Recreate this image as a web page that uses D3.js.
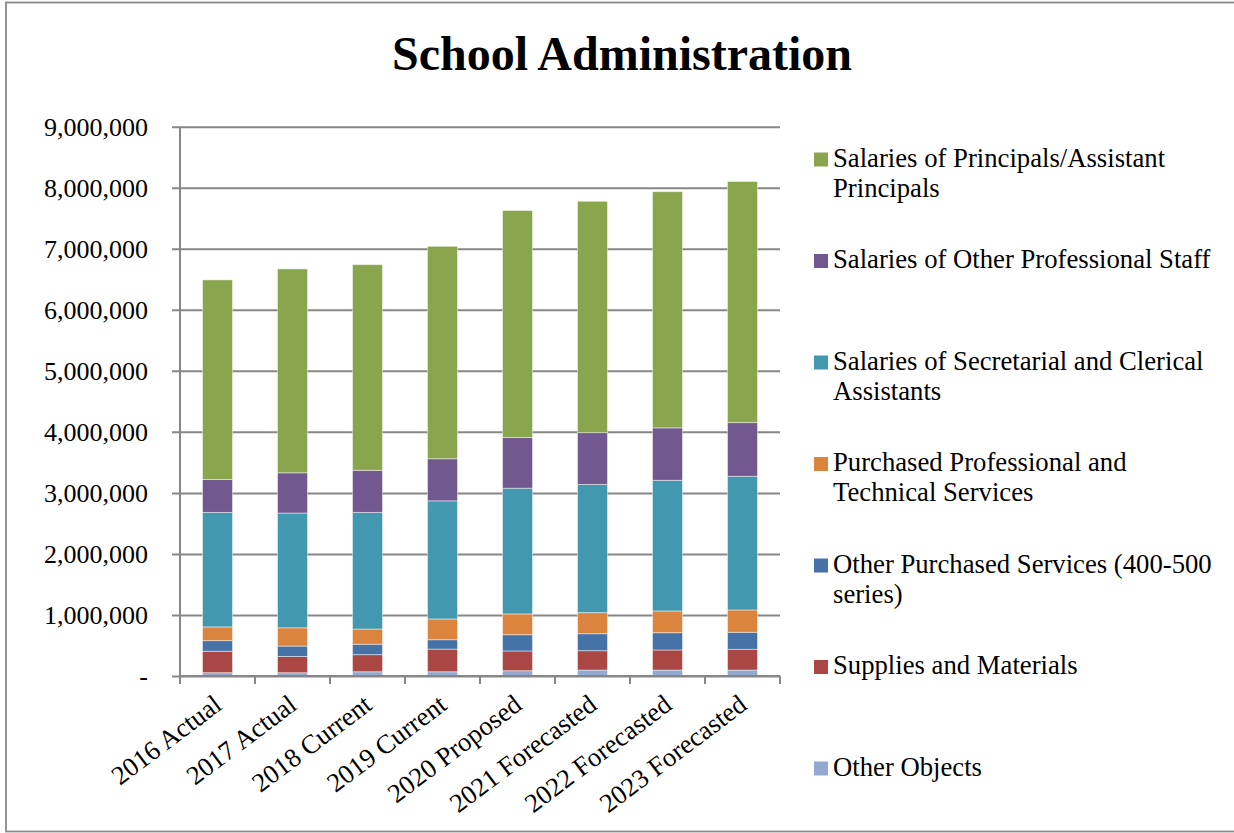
<!DOCTYPE html>
<html>
<head>
<meta charset="utf-8">
<script src="https://cdn.jsdelivr.net/npm/d3@7"></script>
<style>
  body { margin: 0; background: #fff; }
  svg text { font-family: "Liberation Serif", "Times New Roman", serif; fill: #000; }
</style>
</head>
<body>
<div id="chart"></div>
<script>
// categories along the x axis
const years = ["2016 Actual", "2017 Actual", "2018 Current", "2019 Current",
               "2020 Proposed", "2021 Forecasted", "2022 Forecasted", "2023 Forecasted"];

// series, bottom of the stack first
const seriesNames = ["Other Objects", "Supplies and Materials",
                     "Other Purchased Services (400-500 series)",
                     "Purchased Professional and Technical Services",
                     "Salaries of Secretarial and Clerical Assistants",
                     "Salaries of Other Professional Staff",
                     "Salaries of Principals/Assistant Principals"];
const seriesColors = ["#93A9CF", "#AA4643", "#4572A7", "#DB843D", "#4198AF", "#71588F", "#89A54E"];

// values
const otherObjects   = [55000, 54000, 70000, 70000, 87000, 98000, 98000, 98000];
const supplies       = [350000, 266000, 280000, 370000, 323000, 317000, 328000, 339000];
const otherPurchased = [175000, 170000, 170000, 155000, 267000, 278000, 284000, 279000];
const purchasedProf  = [225000, 300000, 250000, 340000, 340000, 345000, 356000, 366000];
const secretarial    = [1875000, 1880000, 1910000, 1935000, 2060000, 2100000, 2140000, 2190000];
const otherProf      = [540000, 660000, 690000, 690000, 830000, 850000, 860000, 880000];
const principals     = [3270000, 3340000, 3370000, 3480000, 3720000, 3790000, 3870000, 3950000];

const yTicks = [0, 1000000, 2000000, 3000000, 4000000, 5000000, 6000000, 7000000, 8000000, 9000000];

const seriesValues = [otherObjects, supplies, otherPurchased, purchasedProf, secretarial, otherProf, principals];

const width = 1234, height = 833;
const plot = { left: 180, right: 780, top: 126.7, bottom: 676 };

const rows = years.map((y, i) => {
  const r = { year: y };
  seriesNames.forEach((s, k) => { r[s] = seriesValues[k][i]; });
  return r;
});

const svg = d3.select("#chart").append("svg")
  .attr("width", width)
  .attr("height", height);

// outer frame
svg.append("rect")
  .attr("x", 6).attr("y", 2.5)
  .attr("width", 1240).attr("height", 829)
  .attr("fill", "none")
  .attr("stroke", "#898989")
  .attr("stroke-width", 1.8);

svg.append("text")
  .attr("x", 622).attr("y", 70)
  .attr("text-anchor", "middle")
  .style("font-size", "48px")
  .style("font-weight", "bold")
  .text("School Administration");

const x = d3.scaleBand()
  .domain(years)
  .range([plot.left, plot.right])
  .paddingInner(0.6)
  .paddingOuter(0.3);

const y = d3.scaleLinear()
  .domain([0, 9000000])
  .range([plot.bottom, plot.top]);

// gridlines + y axis
const yAxis = svg.append("g")
  .attr("transform", `translate(${plot.left},0)`)
  .call(d3.axisLeft(y)
    .tickValues(yTicks)
    .tickSize(-(plot.right - plot.left))
    .tickPadding(32)
    .tickFormat(d => d === 0 ? "-" : d3.format(",")(d)));
yAxis.select(".domain").remove();
yAxis.selectAll(".tick line")
  .attr("x1", -8)
  .attr("stroke", "#878787")
  .attr("stroke-width", 2);
yAxis.selectAll(".tick text")
  .style("font-size", "26px")
  .attr("dy", "0.34em");

// stacked bars
const stack = d3.stack().keys(seriesNames);
const layers = stack(rows);

svg.append("g")
  .selectAll("g")
  .data(layers)
  .join("g")
    .attr("fill", (d, i) => seriesColors[i])
  .selectAll("rect")
  .data(d => d)
  .join("rect")
    .attr("x", d => x(d.data.year))
    .attr("width", x.bandwidth())
    .attr("y", d => y(d[1]))
    .attr("height", d => y(d[0]) - y(d[1]))
    .attr("stroke", "rgba(255,255,255,0.45)")
    .attr("stroke-width", 1);

// left axis line
svg.append("line")
  .attr("x1", plot.left).attr("x2", plot.left)
  .attr("y1", plot.top).attr("y2", plot.bottom)
  .attr("stroke", "#878787").attr("stroke-width", 2);

// x axis: category boundary ticks
const bounds = d3.range(years.length + 1).map(i => plot.left + i * (plot.right - plot.left) / years.length);
svg.append("line")
  .attr("x1", plot.left).attr("x2", plot.right)
  .attr("y1", plot.bottom).attr("y2", plot.bottom)
  .attr("stroke", "#878787").attr("stroke-width", 2);
svg.append("g")
  .selectAll("line")
  .data(bounds)
  .join("line")
    .attr("x1", d => d).attr("x2", d => d)
    .attr("y1", plot.bottom).attr("y2", plot.bottom + 8)
    .attr("stroke", "#878787").attr("stroke-width", 2);

svg.append("g")
  .selectAll("text")
  .data(years)
  .join("text")
    .attr("transform", d => `translate(${x(d) + x.bandwidth() / 2 + 6},${plot.bottom + 32}) rotate(-37)`)
    .attr("text-anchor", "end")
    .style("font-size", "26.7px")
    .text(d => d);

// legend, top entry = top of the stack
const legend = svg.append("g");
const legendOrder = seriesNames.map((s, i) => i).reverse();
legendOrder.forEach((k, j) => {
  const cy = 159.5 + j * 101.5;
  legend.append("rect")
    .attr("x", 814).attr("y", cy - 7)
    .attr("width", 14).attr("height", 14)
    .attr("fill", seriesColors[k]);
  const t = legend.append("text")
    .attr("x", 833).attr("y", cy + 7)
    .style("font-size", "26.7px");
  // wrap to the legend width
  const words = seriesNames[k].split(" ");
  let line = [];
  let tspan = t.append("tspan").attr("x", 833).attr("dy", 0);
  words.forEach(w => {
    line.push(w);
    tspan.text(line.join(" "));
    if (tspan.node().getComputedTextLength() > 390 && line.length > 1) {
      line.pop();
      tspan.text(line.join(" "));
      line = [w];
      tspan = t.append("tspan").attr("x", 833).attr("dy", 30).text(w);
    }
  });
});
</script>
</body>
</html>
